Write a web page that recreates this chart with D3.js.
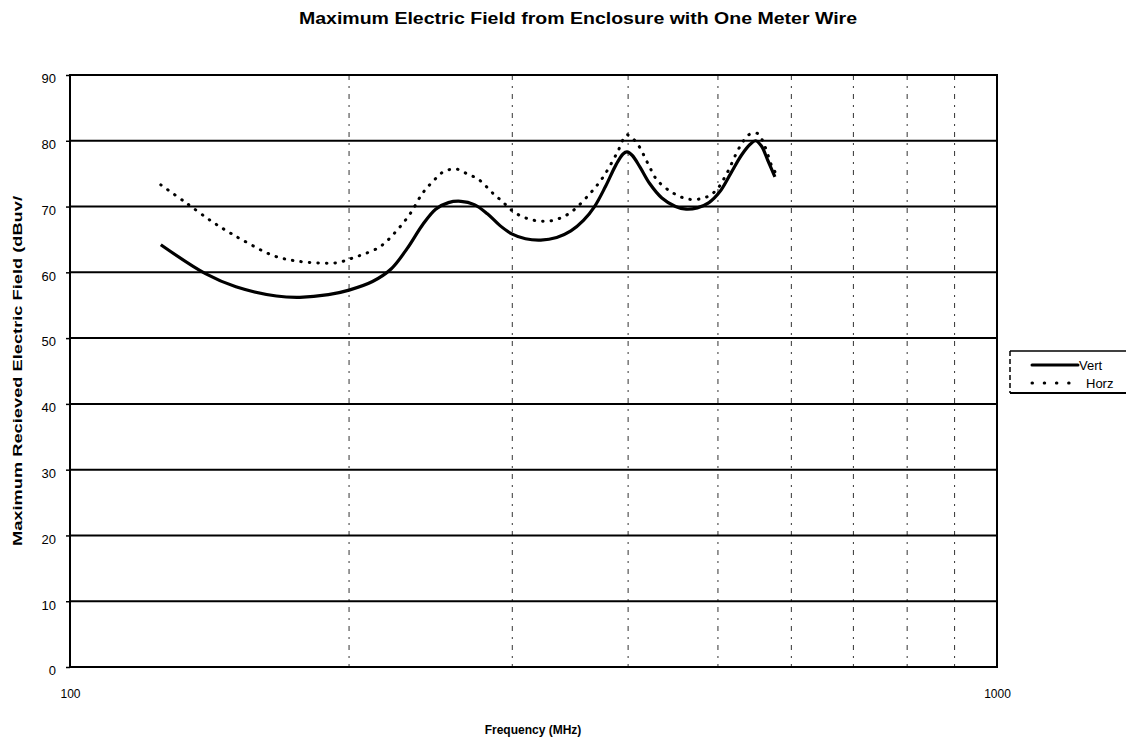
<!DOCTYPE html>
<html>
<head>
<meta charset="utf-8">
<script src="https://cdn.jsdelivr.net/npm/d3@7"></script>
<style>
  html, body { margin: 0; padding: 0; background: #fff; }
  svg { display: block; }
  text { font-family: "Liberation Sans", Arial, sans-serif; fill: #000; }
</style>
</head>
<body>
<svg id="chart" width="1126" height="742"></svg>
<script>
// Measured maximum received field vs. frequency
const vertFreq = [125.3, 140, 151, 167, 177, 190, 200, 212, 222, 231, 240, 248, 256, 264, 273, 282, 291, 300, 310, 322, 335, 347, 358, 368, 378, 388, 395, 399, 404, 412, 422, 435, 450, 462, 475, 489, 502, 516, 530, 542, 549, 557, 566, 576];
const vertVal  = [64.2, 59.8, 57.8, 56.4, 56.2, 56.6, 57.3, 58.6, 60.5, 63.6, 67.2, 69.6, 70.6, 70.8, 70.3, 68.9, 67.1, 65.8, 65.1, 64.9, 65.3, 66.3, 67.9, 70.0, 73.0, 76.3, 78.0, 78.3, 77.8, 76.0, 73.5, 71.3, 70.0, 69.6, 69.8, 70.6, 72.2, 75.0, 77.8, 79.5, 80.0, 79.2, 77.0, 74.5];

const horzFreq = [125.3, 133, 142, 148, 154, 166, 176, 188, 195, 200, 205, 216, 225, 233, 240, 247, 253, 261, 268, 276, 286, 293, 301, 311, 321, 332, 346, 364, 376, 389, 399, 409, 420, 430, 448, 466, 485, 498, 511, 528, 541, 552, 562, 571, 576];
const horzVal  = [73.3, 70.7, 67.8, 66.2, 64.8, 62.5, 61.7, 61.4, 61.5, 62.0, 62.5, 63.9, 66.3, 69.0, 72.0, 74.0, 75.3, 75.7, 75.0, 74.1, 72.0, 70.7, 69.2, 68.2, 67.8, 67.9, 69.0, 72.0, 74.5, 78.1, 80.9, 79.6, 76.6, 74.0, 72.0, 71.1, 71.4, 72.5, 75.0, 79.1, 81.0, 81.1, 79.1, 76.3, 75.3];

const seriesNames = ["Vert", "Horz"];
const yTicks = [0, 10, 20, 30, 40, 50, 60, 70, 80, 90];
const xGridFreqs = [200, 300, 400, 500, 600, 700, 800, 900];
const xTickLabels = [100, 1000];

const titleText = "Maximum Electric Field from Enclosure with One Meter Wire";
const xTitle = "Frequency (MHz)";
const yTitle = "Maximum Recieved Electric Field (dBuv/";

const svg = d3.select("#chart");
const plot = { left: 70, right: 997, top: 75, bottom: 667 };

const x = d3.scaleLog().domain([100, 1000]).range([plot.left, plot.right]);
const y = d3.scaleLinear().domain([0, 90]).range([plot.bottom, plot.top]);

// vertical dotted grid
svg.append("g").selectAll("line").data(xGridFreqs).join("line")
  .attr("x1", d => x(d)).attr("x2", d => x(d))
  .attr("y1", plot.top).attr("y2", plot.bottom)
  .attr("stroke", "#333").attr("stroke-width", 1)
  .attr("stroke-dasharray", "5,6,2,6");

// horizontal solid grid
svg.append("g").selectAll("line").data(yTicks.filter(d => d > 0 && d < 90)).join("line")
  .attr("x1", plot.left).attr("x2", plot.right)
  .attr("y1", d => y(d)).attr("y2", d => y(d))
  .attr("stroke", "#000").attr("stroke-width", 2);

// plot frame
svg.append("rect")
  .attr("x", plot.left).attr("y", plot.top)
  .attr("width", plot.right - plot.left).attr("height", plot.bottom - plot.top)
  .attr("fill", "none").attr("stroke", "#000").attr("stroke-width", 2);

// y axis ticks and labels
const yAxis = d3.axisLeft(y).tickValues(yTicks).tickSize(4).tickPadding(10).tickFormat(d3.format("d"));
const gy = svg.append("g").attr("transform", `translate(${plot.left},0)`).call(yAxis);
gy.select(".domain").remove();
gy.selectAll("line").attr("stroke", "#000").attr("stroke-width", 1.5);
gy.selectAll("text").attr("font-size", 13).attr("dy", "0.6em")
  .style("font-family", "'Liberation Sans', Arial, sans-serif");

// x axis labels (100 and 1000 only)
const xAxis = d3.axisBottom(x).tickValues(xTickLabels).tickSize(0).tickPadding(22).tickFormat(d3.format("d"));
const gx = svg.append("g").attr("transform", `translate(0,${plot.bottom})`).call(xAxis);
gx.select(".domain").remove();
gx.selectAll("text").attr("font-size", 12)
  .style("font-family", "'Liberation Sans', Arial, sans-serif");

// data lines
const line = d3.line().x(d => x(d[0])).y(d => y(d[1])).curve(d3.curveCatmullRom.alpha(0.5));
const vertPts = d3.zip(vertFreq, vertVal);
const horzPts = d3.zip(horzFreq, horzVal);

svg.append("path").datum(horzPts).attr("d", line)
  .attr("fill", "none").attr("stroke", "#000").attr("stroke-width", 3)
  .attr("stroke-linecap", "round").attr("stroke-dasharray", "0.5,8");

svg.append("path").datum(vertPts).attr("d", line)
  .attr("fill", "none").attr("stroke", "#000").attr("stroke-width", 3.2)
  .attr("stroke-linejoin", "round");

// titles
svg.append("text").attr("x", 578).attr("y", 24).attr("text-anchor", "middle")
  .attr("font-size", 16).attr("font-weight", "bold")
  .attr("textLength", 558).attr("lengthAdjust", "spacingAndGlyphs").text(titleText);
svg.append("text").attr("x", 533).attr("y", 734).attr("text-anchor", "middle")
  .attr("font-size", 12).attr("font-weight", "bold").text(xTitle);
svg.append("text").attr("transform", "translate(22,371) rotate(-90)").attr("text-anchor", "middle")
  .attr("font-size", 13).attr("font-weight", "bold")
  .attr("textLength", 350).attr("lengthAdjust", "spacingAndGlyphs").text(yTitle);

// legend
const lg = svg.append("g");
lg.append("line").attr("x1", 1010).attr("x2", 1010).attr("y1", 351).attr("y2", 393)
  .attr("stroke", "#000").attr("stroke-width", 1.5).attr("stroke-dasharray", "5,3");
lg.append("line").attr("x1", 1010).attr("x2", 1126).attr("y1", 393).attr("y2", 393)
  .attr("stroke", "#000").attr("stroke-width", 2);
lg.append("line").attr("x1", 1010).attr("x2", 1126).attr("y1", 351).attr("y2", 351)
  .attr("stroke", "#000").attr("stroke-width", 1.5);
const legendRows = [
  { name: seriesNames[0], dash: null, y: 365, tx: 1079 },
  { name: seriesNames[1], dash: "0.5,11.7", y: 383, tx: 1086 }
];
legendRows.forEach(r => {
  const ln = lg.append("line").attr("x1", 1032).attr("x2", 1078).attr("y1", r.y).attr("y2", r.y)
    .attr("stroke", "#000").attr("stroke-width", 3).attr("stroke-linecap", "round");
  if (r.dash) ln.attr("stroke-dasharray", r.dash);
  lg.append("text").attr("x", r.tx).attr("y", r.y + 4.5).attr("font-size", 13).text(r.name);
});
</script>
</body>
</html>
